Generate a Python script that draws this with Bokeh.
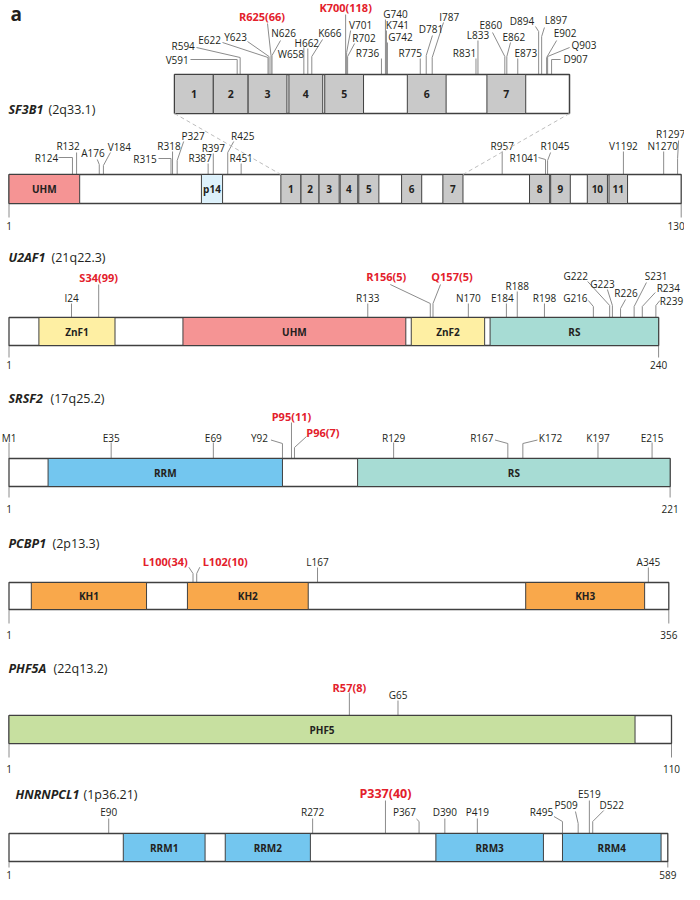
from bokeh.plotting import figure
from bokeh.models import Range1d, ColumnDataSource
from bokeh.core.properties import value
from bokeh.embed import file_html
from bokeh.resources import INLINE

FONT = "Open Sans"

# ======================= DATA =======================
# SF3B1 (2q33.1)
SF3B1_LENGTH = 1304
SF3B1_TICK_POS = [1, 1304]
SF3B1_TICK_LABELS = ["1", "130"]
SF3B1_DOM_NAMES = ["UHM", "p14", "1", "2", "3", "4", "5", "6", "7", "8", "9", "10", "11"]
SF3B1_DOM_START = [1, 374, 528, 567, 602, 643, 679, 762, 842, 1010, 1051, 1122, 1164]
SF3B1_DOM_END = [138, 415, 567, 602, 641, 677, 718, 801, 881, 1049, 1089, 1161, 1200]
SF3B1_DOM_KIND = ["UHM", "p14"] + ["HEAT"] * 11
SF3B1_MUT_NAMES = ["R124", "R132", "A176", "V184", "R315", "R318", "P327", "R387", "R397",
                   "R425", "R451", "R957", "R1041", "R1045", "V1192", "N1270", "R1297"]
SF3B1_MUT_POS = [124, 132, 176, 184, 315, 318, 327, 387, 397, 425, 451, 957, 1041, 1045,
                 1192, 1270, 1297]
# SF3B1 HEAT-repeat inset (zoom of residues 528-925)
INSET_SPAN = [528, 925]
INSET_DOM_NAMES = ["1", "2", "3", "4", "5", "6", "7"]
INSET_DOM_START = [528, 567, 602, 643, 679, 762, 842]
INSET_DOM_END = [567, 602, 641, 677, 718, 801, 881]
INSET_DOM_KIND = ["HEAT"] * 7
INSET_MUT_NAMES = ["V591", "R594", "E622", "Y623", "R625(66)", "N626", "W658", "H662", "K666",
                   "K700(118)", "V701", "R702", "R736", "G740", "K741", "G742", "R775", "D781",
                   "I787", "R831", "L833", "E860", "E862", "E873", "D894", "L897", "E902",
                   "Q903", "D907"]
INSET_MUT_POS = [591, 594, 622, 623, 625, 626, 658, 662, 666, 700, 701, 702, 736, 740, 741,
                 742, 775, 781, 787, 831, 833, 860, 862, 873, 894, 897, 902, 903, 907]

# U2AF1 (21q22.3)
U2AF1_LENGTH = 240
U2AF1_DOM_NAMES = ["ZnF1", "UHM", "ZnF2", "RS"]
U2AF1_DOM_START = [12, 65, 149, 178]
U2AF1_DOM_END = [40, 147, 176, 240]
U2AF1_DOM_KIND = ["ZnF", "UHM", "ZnF", "RS"]
U2AF1_MUT_NAMES = ["I24", "S34(99)", "R133", "R156(5)", "Q157(5)", "N170", "E184", "R188",
                   "R198", "G216", "G222", "G223", "R226", "S231", "R234", "R239"]
U2AF1_MUT_POS = [24, 34, 133, 156, 157, 170, 184, 188, 198, 216, 222, 223, 226, 231, 234, 239]

# SRSF2 (17q25.2)
SRSF2_LENGTH = 221
SRSF2_DOM_NAMES = ["RRM", "RS"]
SRSF2_DOM_START = [14, 117]
SRSF2_DOM_END = [92, 221]
SRSF2_DOM_KIND = ["RRM", "RS"]
SRSF2_MUT_NAMES = ["M1", "E35", "E69", "Y92", "P95(11)", "P96(7)", "R129", "R167", "K172",
                   "K197", "E215"]
SRSF2_MUT_POS = [1, 35, 69, 92, 95, 96, 129, 167, 172, 197, 215]

# PCBP1 (2p13.3)
PCBP1_LENGTH = 356
PCBP1_DOM_NAMES = ["KH1", "KH2", "KH3"]
PCBP1_DOM_START = [13, 97, 279]
PCBP1_DOM_END = [75, 162, 343]
PCBP1_DOM_KIND = ["KH", "KH", "KH"]
PCBP1_MUT_NAMES = ["L100(34)", "L102(10)", "L167", "A345"]
PCBP1_MUT_POS = [100, 102, 167, 345]

# PHF5A (22q13.2)
PHF5A_LENGTH = 110
PHF5A_DOM_NAMES = ["PHF5"]
PHF5A_DOM_START = [1]
PHF5A_DOM_END = [104]
PHF5A_DOM_KIND = ["PHF5"]
PHF5A_MUT_NAMES = ["R57(8)", "G65"]
PHF5A_MUT_POS = [57, 65]

# HNRNPCL1 (1p36.21)
HNRNPCL1_LENGTH = 589
HNRNPCL1_DOM_NAMES = ["RRM1", "RRM2", "RRM3", "RRM4"]
HNRNPCL1_DOM_START = [103, 194, 382, 495]
HNRNPCL1_DOM_END = [176, 270, 478, 583]
HNRNPCL1_DOM_KIND = ["RRM"] * 4
HNRNPCL1_MUT_NAMES = ["E90", "R272", "P337(40)", "P367", "D390", "P419", "R495", "P509",
                      "E519", "D522"]
HNRNPCL1_MUT_POS = [90, 272, 337, 367, 390, 419, 495, 509, 519, 522]

# ======================= STYLE / LAYOUT =======================
KIND_COLOR = {"HEAT": "#C9C9C9", "UHM": "#F59494", "p14": "#DDF1FB", "ZnF": "#FEEFA3",
              "RS": "#A7DCD4", "RRM": "#73C6EF", "KH": "#F9A84B", "PHF5": "#C7E0A0"}
OUTLINE = "#404040"
LEADER = "#8C8C8C"
RED = "#E3202B"
BLACK = "#231F20"

X_MIN, X_MAX = 0, 684
FIG_W, FIG_H = 684, 884

# label layout per mutation: (text dx px, text y, leader-start dx px, leader-start y, knee y)
L_SF3B1 = [(-26, 157, -14, 157, 157), (-8.5, 145, 0, 152, 152), (-6.3, 152, -2, 159, 164),
           (16, 146, 7, 152, 165), (-26, 158, -12.5, 158, 158), (-3.5, 145, 0, 151, 151),
           (16, 135, 6.5, 141, 160), (-8, 157, 0, 163, 163), (0, 147, 0, 153, 153),
           (15, 135, 6, 141, 152), (0, 157, 0, 163, 163), (0, 145, 0, 151, 151),
           (-21.5, 157, -7, 157, 159), (7.4, 145, 3, 152, 160), (0, 145, 0, 151, 151),
           (-1, 145, 0, 151, 151), (-7, 133, 1, 140, 158)]
L_INSET = [(-60, 59, -46.7, 59, 59), (-57, 45, -43.7, 47, 57), (-58.5, 39, -45.5, 42, 57),
           (-33.5, 36, -21.5, 41, 56), (-9, 16, -3.5, 23, 55), (11.5, 32, 8.5, 40, 55),
           (-13, 53, 0, 47, 47), (-1, 42, 0, 48, 48), (18, 32, 10.7, 39, 56),
           (0, 7, 0, 14, 14), (14, 24, 4, 30, 52), (16.4, 37, 7, 43, 56),
           (-14, 52, 0, 58, 58), (10, 13, 0, 19, 19), (11, 24, 0, 30, 30),
           (13, 36, 0, 42, 42), (-10, 52, 0, 58, 58), (4.7, 28, 6.2, 35, 55),
           (17, 16, 11.3, 22, 57), (-11.5, 52, 0, 58, 58), (0, 34, 0, 40, 40),
           (-14, 24, -12.3, 32, 56), (7, 36, 3.7, 42, 56), (8, 52, 0, 58, 58),
           (-16.7, 20, -3.2, 26, 31), (14.3, 19, 2.8, 27, 36), (18.4, 32, 10, 40, 57),
           (36.4, 44, 22, 47, 56), (24, 58, 9, 59, 59)]
L_U2AF1 = [(0, 297, 0, 303, 303), (0, 277, 0, 284, 284), (0, 297, 0, 303, 303),
           (-44, 276, -40, 284, 303), (19, 276, 7.5, 284, 303), (0, 297, 0, 303, 303),
           (-4, 297, 0, 303, 303), (0, 285, 0, 291, 291), (0, 297, 0, 303, 303),
           (-18, 297, -5, 300, 306), (-34, 275, -22, 281, 305), (-10, 283, -5, 289, 305),
           (5.4, 292, 5, 299, 308), (22, 275, 12.3, 282, 306), (26, 287, 13, 292, 306),
           (15.6, 300, 4, 300, 305)]
L_SRSF2 = [(0, 437, 0, 442, 442), (0, 437, 0, 442, 442), (0, 437, 0, 442, 442),
           (-23, 437, -11.5, 439.5, 443), (0, 416, 0, 422, 422), (28.5, 432, 12, 436, 447),
           (0, 437, 0, 442, 442), (-26, 437, -12.8, 439.5, 443), (27.6, 437, 14.6, 439.5, 443),
           (0, 437, 0, 442, 442), (0, 437, 0, 442, 442)]
L_PCBP1 = [(-27.8, 561, -4.2, 566.7, 573), (28.5, 561, 3.1, 566.7, 573),
           (0, 561, 0, 567, 567), (0, 561, 0, 567, 567)]
L_PHF5A = [(0, 686.7, 0, 692, 692), (0, 694, 0, 700, 700)]
L_HNRNPCL1 = [(0, 820.7, 0, 827, 827), (0, 820.7, 0, 827, 827), (0, 801.7, 0, 809, 809),
              (-14.6, 820, -2.6, 827.5, 830), (0, 820, 0, 827, 827), (0, 820, 0, 827, 827),
              (-21, 820, -8.5, 825, 830), (-12, 813.3, -2.7, 820, 832), (0, 802.7, 0, 809, 809),
              (19, 813.3, 11, 819, 830)]

p = figure(width=FIG_W, height=FIG_H, x_range=Range1d(X_MIN, X_MAX), y_range=Range1d(FIG_H, 0),
           x_axis_type=None, y_axis_type=None, output_backend="svg", toolbar_location=None,
           min_border=0, background_fill_color="white", border_fill_color="white")
p.grid.visible = False
p.outline_line_color = None


def px_of(rng, r):
    return X_MIN + (r - rng.start) / (rng.end - rng.start) * FIG_W


def draw_track(key, r0, r1, x0, x1, top, bottom, d_names, d_start, d_end, d_kind,
               m_names, m_pos, lay, tick_pos=None, tick_labels=None, tick_len=14,
               tick_label_y=None, tick_label_dx=None, dom_size="10px", hot_size="11px",
               bar_lw=1.3, dy=0):
    top += dy
    bottom += dy
    k = (x1 - x0) / (r1 - r0)
    start = r0 - (x0 - X_MIN) / k
    rng = Range1d(start, start + FIG_W / k)
    p.extra_x_ranges[key] = rng
    # leaders
    xs, ys = [], []
    for r, (dxt, ty, dxl, ly, ky) in zip(m_pos, lay):
        xs.append([r + dxl / k, r, r])
        ys.append([ly + dy, ky + dy, top])
    p.multi_line(xs, ys, line_color=LEADER, line_width=1, x_range_name=key)
    # ticks
    if tick_pos:
        p.multi_line([[t, t] for t in tick_pos], [[bottom, bottom + tick_len]] * len(tick_pos),
                     line_color=LEADER, line_width=1, x_range_name=key)
        src = ColumnDataSource(dict(x=tick_pos, y=[tick_label_y + dy] * len(tick_pos),
                                    t=tick_labels,
                                    dx=tick_label_dx or [0] * len(tick_pos)))
        p.text(x="x", y="y", text="t", x_offset="dx", source=src,
               text_align="center", text_baseline="middle", text_font=value(FONT),
               text_font_size="10px", text_color=BLACK, x_range_name=key)
    # bar + domains
    p.quad(left=[r0], right=[r1], top=[top], bottom=[bottom], fill_color="white",
           line_color=OUTLINE, line_width=bar_lw, x_range_name=key)
    p.quad(left=d_start, right=d_end, top=[top] * len(d_start), bottom=[bottom] * len(d_start),
           fill_color=[KIND_COLOR[c] for c in d_kind], line_color=OUTLINE, line_width=1,
           x_range_name=key)
    p.text(x=[(a + b) / 2 for a, b in zip(d_start, d_end)], y=[(top + bottom) / 2] * len(d_start),
           text=d_names, text_align="center", text_baseline="middle", text_font=value(FONT),
           text_font_size=dom_size, text_font_style="bold", text_color=BLACK, x_range_name=key)
    # mutation labels
    for hot in (False, True):
        sel = [i for i, n in enumerate(m_names) if ("(" in n) == hot]
        if not sel:
            continue
        src = ColumnDataSource(dict(x=[m_pos[i] for i in sel], y=[lay[i][1] + dy for i in sel],
                                    dx=[lay[i][0] for i in sel], t=[m_names[i] for i in sel]))
        p.text(x="x", y="y", text="t", x_offset="dx", source=src, text_align="center",
               text_baseline="middle", text_font=value(FONT),
               text_font_size=hot_size if hot else "10px",
               text_font_style="bold" if hot else "normal",
               text_color=RED if hot else BLACK, x_range_name=key)
    return rng


def title(x, y, gene, locus, locus_x):
    p.text(x=[x], y=[y], text=[gene], text_align="left", text_baseline="middle",
           text_font=value(FONT), text_font_size="12.5px", text_font_style="bold italic",
           text_color=BLACK)
    p.text(x=[locus_x], y=[y], text=[locus], text_align="left", text_baseline="middle",
           text_font=value(FONT), text_font_size="12.5px", text_color=BLACK)


# panel label
p.text(x=[10], y=[13], text=["a"], text_align="left", text_baseline="middle",
       text_font=value(FONT), text_font_size="19px", text_font_style="bold", text_color=BLACK)

# SF3B1 inset and main
r_inset = draw_track("inset", INSET_SPAN[0], INSET_SPAN[1], 174, 569, 74, 113,
                     INSET_DOM_NAMES, INSET_DOM_START, INSET_DOM_END, INSET_DOM_KIND,
                     INSET_MUT_NAMES, INSET_MUT_POS, L_INSET, dom_size="10.5px", bar_lw=1.5)
r_main = draw_track("sf3b1", 1, SF3B1_LENGTH, 8.5, 680.7, 174, 203,
                    SF3B1_DOM_NAMES, SF3B1_DOM_START, SF3B1_DOM_END, SF3B1_DOM_KIND,
                    SF3B1_MUT_NAMES, SF3B1_MUT_POS, L_SF3B1, SF3B1_TICK_POS, SF3B1_TICK_LABELS,
                    14, 225, [0, -5])
# dashed connectors between inset and main bar
p.multi_line([[px_of(r_inset, INSET_SPAN[0]), px_of(r_main, SF3B1_DOM_START[2])],
              [px_of(r_inset, INSET_SPAN[1]), px_of(r_main, SF3B1_DOM_END[8])]],
             [[113, 174], [113, 174]], line_color="#BDBDBD", line_width=1, line_dash="4 3")
title(8, 109, "SF3B1", "(2q33.1)", 48)

title(8, 257, "U2AF1", "(21q22.3)", 51)
draw_track("u2af1", 1, U2AF1_LENGTH, 8.5, 658.1, 317, 345,
           U2AF1_DOM_NAMES, U2AF1_DOM_START, U2AF1_DOM_END, U2AF1_DOM_KIND,
           U2AF1_MUT_NAMES, U2AF1_MUT_POS, L_U2AF1, [1, U2AF1_LENGTH],
           ["1", str(U2AF1_LENGTH)], 12, 364)

title(8, 398, "SRSF2", "(17q25.2)", 50)
draw_track("srsf2", 1, SRSF2_LENGTH, 8.5, 669.6, 458, 486,
           SRSF2_DOM_NAMES, SRSF2_DOM_START, SRSF2_DOM_END, SRSF2_DOM_KIND,
           SRSF2_MUT_NAMES, SRSF2_MUT_POS, L_SRSF2, [1, SRSF2_LENGTH],
           ["1", str(SRSF2_LENGTH)], 11, 508)

title(8, 543, "PCBP1", "(2p13.3)", 52)
draw_track("pcbp1", 1, PCBP1_LENGTH, 8.5, 668.3, 582, 609,
           PCBP1_DOM_NAMES, PCBP1_DOM_START, PCBP1_DOM_END, PCBP1_DOM_KIND,
           PCBP1_MUT_NAMES, PCBP1_MUT_POS, L_PCBP1, [1, PCBP1_LENGTH],
           ["1", str(PCBP1_LENGTH)], 14, 634)

title(8, 668, "PHF5A", "(22q13.2)", 53)
draw_track("phf5a", 1, PHF5A_LENGTH, 8.5, 671, 715, 743,
           PHF5A_DOM_NAMES, PHF5A_DOM_START, PHF5A_DOM_END, PHF5A_DOM_KIND,
           PHF5A_MUT_NAMES, PHF5A_MUT_POS, L_PHF5A, [1, PHF5A_LENGTH],
           ["1", str(PHF5A_LENGTH)], 14, 768)

HN_DY = -9
title(15, 803 + HN_DY, "HNRNPCL1", "(1p36.21)", 83)
draw_track("hnrnpcl1", 1, HNRNPCL1_LENGTH, 8.5, 667.3, 842, 870,
           HNRNPCL1_DOM_NAMES, HNRNPCL1_DOM_START, HNRNPCL1_DOM_END, HNRNPCL1_DOM_KIND,
           HNRNPCL1_MUT_NAMES, HNRNPCL1_MUT_POS, L_HNRNPCL1, [1, HNRNPCL1_LENGTH],
           ["1", str(HNRNPCL1_LENGTH)], 6, 883, hot_size="12.5px", dy=HN_DY)

open("out.html", "w").write(file_html(p, INLINE))
